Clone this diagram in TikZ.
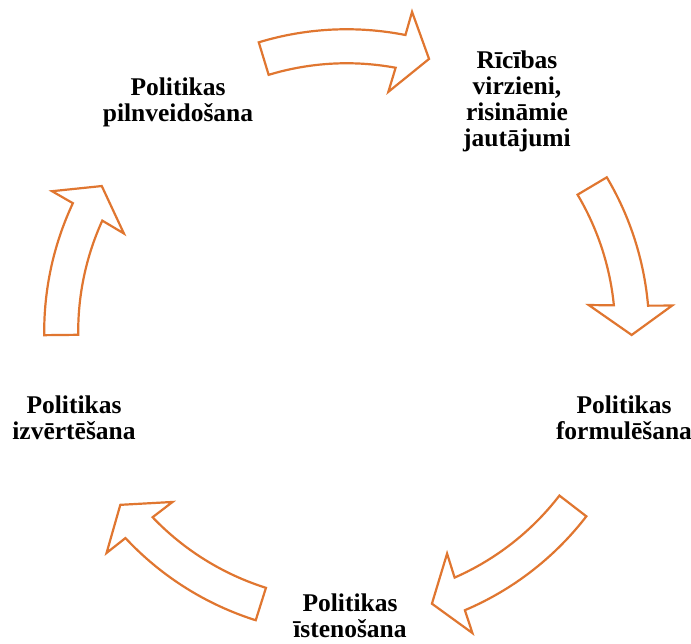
\documentclass[tikz,border=0pt]{standalone}
\usepackage{fontspec}
\setmainfont{Liberation Serif}
\definecolor{arroworange}{RGB}{224,118,48}
\tikzset{
  cyclearrow/.style={draw=arroworange, line width=2.2pt, fill=white, line join=miter},
  label/.style={font=\fontsize{25.5pt}{26pt}\selectfont\bfseries, align=center, inner sep=0pt, anchor=base}
}
\begin{document}
\begin{tikzpicture}
\useasboundingbox (-346.7pt,-311.25pt) rectangle (344.3pt,331.75pt);
% curved block arrows (tail angle / tip angle)
\foreach \ta/\tb [count=\i] in {106.9/73.2, 30.7/-0.65, -37.6/-72.6, 252.5/217.4, 180.65/149.25}{
  \pgfmathsetmacro{\bo}{\tb+5.6}
  \pgfmathsetmacro{\bi}{\tb+6.3}
  \pgfmathsetmacro{\ho}{\tb+5.25}
  \pgfmathsetmacro{\hi}{\tb+6.95}
  \draw[cyclearrow] (\ta:268.5pt) coordinate (t\i) -- (\ta:302.5pt)
    arc[start angle=\ta, end angle=\bo, radius=302.5pt]
    -- (\ho:326.5pt) -- (\tb:285pt) coordinate (p\i) -- (\hi:243.5pt) -- (\bi:268.5pt)
    arc[start angle=\bi, end angle=\ta, radius=268.5pt] -- cycle;
}
\node[label] (rv) at (170.3pt,185.05pt) {Rīcības\\virzieni,\\risināmie\\jautājumi};
\node[label] (pf) at (277.3pt,-107.75pt) {Politikas\\formulēšana};
\node[label] (pi) at (3.3pt,-305.95pt) {Politikas\\īstenošana};
\node[label] (pz) at (-272.7pt,-107.75pt) {Politikas\\izvērtēšana};
\node[label] (pp) at (-168.7pt,210.05pt) {Politikas\\pilnveidošana};
\end{tikzpicture}
\end{document}
